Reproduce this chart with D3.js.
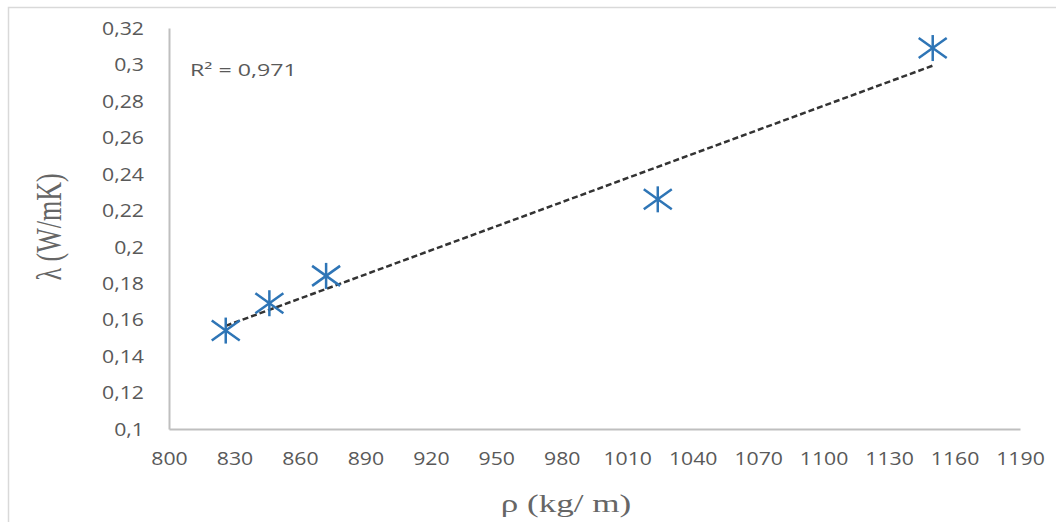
<!DOCTYPE html>
<html>
<head>
<meta charset="utf-8">
<script src="https://cdn.jsdelivr.net/npm/d3@7"></script>
<style>
  html, body { margin: 0; padding: 0; background: #fff; }
  svg { display: block; }
</style>
</head>
<body>
<svg id="chart" width="1056" height="522"></svg>
<script>
// Density (kg/m) and thermal conductivity (W/mK) of the samples
const densities = [826, 846, 872, 1024, 1150];
const conductivity = [0.154, 0.169, 0.184, 0.226, 0.309];

// Axis tick values
const xTicks = [800, 830, 860, 890, 920, 950, 980, 1010, 1040, 1070, 1100, 1130, 1160, 1190];
const yTicks = [0.1, 0.12, 0.14, 0.16, 0.18, 0.2, 0.22, 0.24, 0.26, 0.28, 0.3, 0.32];

// Labels
const xTitle = "ρ (kg/ m)";
const yTitle = "λ (W/mK)";
const rSquaredLabel = "R² = 0,971";

const W = 1056, H = 522;
const plot = { left: 169, right: 1020, top: 28, bottom: 429 };
const stretch = 1.18;          // horizontal widening of the label glyphs
const textGray = "#595959";
const markerBlue = "#2E75B6";

const svg = d3.select("#chart");

// outer chart frame
svg.append("rect")
  .attr("x", 8.5).attr("y", 7.5)
  .attr("width", W).attr("height", H)
  .attr("fill", "#fff")
  .attr("stroke", "#d9d9d9").attr("stroke-width", 1.5);

const x = d3.scaleLinear().domain([800, 1190]).range([plot.left, plot.right]);
const y = d3.scaleLinear().domain([0.1, 0.32]).range([plot.bottom, plot.top]);

const commaFmt = d => String(+d.toFixed(2)).replace(".", ",");

// X axis
const gx = svg.append("g")
  .attr("transform", `translate(0,${plot.bottom})`)
  .call(d3.axisBottom(x).tickValues(xTicks).tickFormat(d => d).tickSize(0).tickPadding(0));
gx.select(".domain").attr("stroke", "#bfbfbf").attr("stroke-width", 2);
gx.selectAll("text")
  .attr("y", 0).attr("dy", 0)
  .attr("transform", `translate(0,36) scale(${stretch},1)`)
  .attr("fill", textGray)
  .style("font-family", "'Open Sans', sans-serif")
  .style("font-size", "18px");

// Y axis
const gy = svg.append("g")
  .attr("transform", `translate(${plot.left},0)`)
  .call(d3.axisLeft(y).tickValues(yTicks).tickFormat(commaFmt).tickSize(0).tickPadding(0));
gy.select(".domain").attr("stroke", "#bfbfbf").attr("stroke-width", 2);
gy.selectAll("text")
  .attr("x", 0).attr("dy", "0.35em")
  .attr("transform", `translate(-25,0) scale(${stretch},1)`)
  .attr("fill", textGray)
  .style("font-family", "'Open Sans', sans-serif")
  .style("font-size", "18px");

// Linear trendline (least squares) across the data range
const mx = d3.mean(densities), my = d3.mean(conductivity);
let sxy = 0, sxx = 0;
densities.forEach((d, i) => { sxy += (d - mx) * (conductivity[i] - my); sxx += (d - mx) * (d - mx); });
const slope = sxy / sxx, intercept = my - slope * mx;
const [xMin, xMax] = d3.extent(densities);

svg.append("line")
  .attr("x1", x(xMin)).attr("y1", y(intercept + slope * xMin))
  .attr("x2", x(xMax)).attr("y2", y(intercept + slope * xMax))
  .attr("stroke", "#333")
  .attr("stroke-width", 2.5)
  .attr("stroke-dasharray", "6,3");

// Star markers
const pts = densities.map((d, i) => ({ d, v: conductivity[i] }));
const marker = svg.append("g").selectAll("g").data(pts).join("g")
  .attr("transform", p => `translate(${x(p.d)},${y(p.v)})`)
  .attr("stroke", markerBlue)
  .attr("stroke-width", 2.5)
  .attr("stroke-linecap", "butt");
marker.append("line").attr("x1", 0).attr("y1", -13).attr("x2", 0).attr("y2", 13);
marker.append("line").attr("x1", -14).attr("y1", -10).attr("x2", 14).attr("y2", 10);
marker.append("line").attr("x1", -14).attr("y1", 10).attr("x2", 14).attr("y2", -10);

// R² annotation
svg.append("text")
  .attr("transform", `translate(190,76) scale(1.45,1)`)
  .attr("fill", textGray)
  .style("font-family", "'Open Sans', sans-serif")
  .style("font-size", "16px")
  .text(rSquaredLabel);

// Axis titles
svg.append("text")
  .attr("transform", `translate(566,512) scale(1.35,1)`)
  .attr("text-anchor", "middle")
  .attr("fill", "#666")
  .style("font-family", "'Liberation Serif', serif")
  .style("font-size", "26px")
  .text(xTitle);

svg.append("text")
  .attr("transform", `translate(61,227) rotate(-90) scale(1,1.35)`)
  .attr("text-anchor", "middle")
  .attr("fill", "#666")
  .style("font-family", "'Liberation Serif', serif")
  .style("font-size", "26px")
  .text(yTitle);
</script>
</body>
</html>
